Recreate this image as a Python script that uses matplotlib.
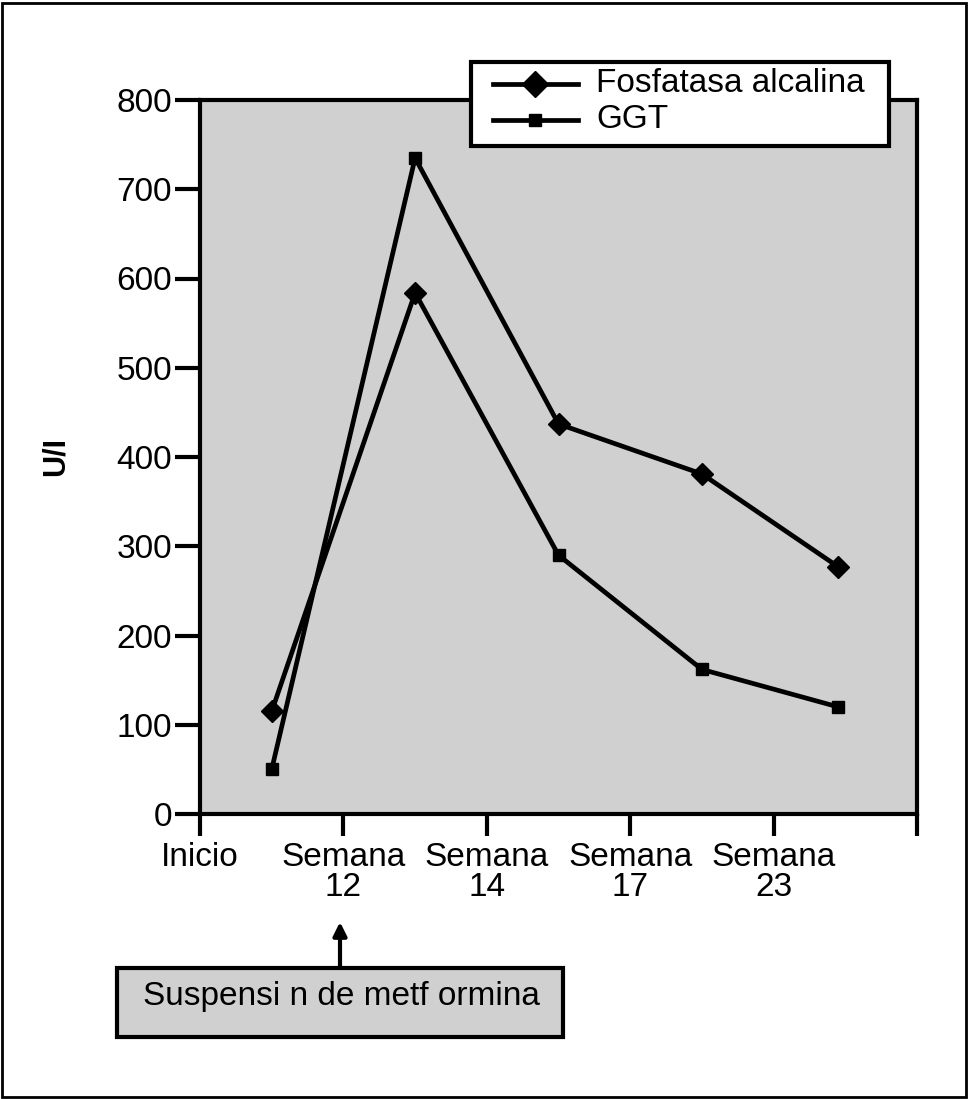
import matplotlib.pyplot as plt
from matplotlib.patches import Rectangle
from matplotlib.lines import Line2D

plt.rcParams['font.family'] = ['Liberation Sans', 'DejaVu Sans']

# datos
etiquetas = ['Inicio', 'Semana\n12', 'Semana\n14', 'Semana\n17', 'Semana\n23', '']
x_puntos = [0.5, 1.5, 2.5, 3.5, 4.45]
fosfatasa = [115, 584, 437, 381, 277]
ggt = [50, 735, 290, 162, 120]
# en el original las lineas cruzan los marcadores despues de la semana 12
linea_a = [115, 584, 290, 162, 120]
linea_b = [50, 735, 437, 381, 277]
y_ticks = [0, 100, 200, 300, 400, 500, 600, 700, 800]
series = ['Fosfatasa alcalina', 'GGT']

fig = plt.figure(figsize=(9.69, 10.99), dpi=100)
W, H = 969, 1099

def fx(px):
    return px / W

def fy(py):
    return 1 - py / H

# marco exterior
fig.patches.append(Rectangle((fx(2), fy(1097)), 964 / W, 1094 / H, transform=fig.transFigure,
                             fill=False, edgecolor='black', linewidth=2))

ax = fig.add_axes([fx(200), fy(814), 717 / W, 714 / H])
ax.set_facecolor('#d0d0d0')

ax.plot(x_puntos, linea_a, color='black', linewidth=3.4)
ax.plot(x_puntos, linea_b, color='black', linewidth=3.4)
ax.plot(x_puntos, fosfatasa, linestyle='none', color='black', marker='D', markersize=11.5)
ax.plot(x_puntos, ggt, linestyle='none', color='black', marker='s', markersize=8)

ax.set_xlim(0, 5)
ax.set_ylim(0, 800)
ax.set_xticks(range(6))
ax.set_xticklabels(etiquetas, fontsize=24, linespacing=0.95)
ax.set_yticks(y_ticks)
ax.set_yticklabels([str(v) for v in y_ticks], fontsize=24)
ax.tick_params(axis='y', direction='out', length=18, width=3, pad=2)
ax.tick_params(axis='x', direction='out', length=16, width=3, pad=4)
for s in ax.spines.values():
    s.set_linewidth(3)
ax.set_ylabel('U/I', fontsize=22, fontweight='bold')
ax.yaxis.set_label_coords(-0.18, 0.5)

# leyenda dibujada a mano
fig.patches.append(Rectangle((fx(471), fy(146)), 418 / W, 84 / H, transform=fig.transFigure,
                             facecolor='white', edgecolor='black', linewidth=3, zorder=5))
for i, (nombre, mk, ms) in enumerate(zip(series, ['D', 's'], [13, 8])):
    yy = fy(84 + 36 * i)
    fig.add_artist(Line2D([fx(493), fx(578)], [yy, yy], transform=fig.transFigure,
                          color='black', linewidth=3.4, zorder=6))
    fig.add_artist(Line2D([fx(535)], [yy], transform=fig.transFigure, color='black',
                          marker=mk, markersize=ms, zorder=7))
    fig.text(fx(596), yy, nombre, fontsize=24, va='center', ha='left', zorder=8)

# nota
fig.patches.append(Rectangle((fx(117), fy(1037)), 446 / W, 69 / H, transform=fig.transFigure,
                             facecolor='#d0d0d0', edgecolor='black', linewidth=3))
fig.text(fx(143), fy(996), 'Suspensi n de metf ormina', fontsize=24, va='center', ha='left')
fig.add_artist(plt.Annotation('', xy=(fx(340), fy(922)), xytext=(fx(340), fy(968)),
                              xycoords='figure fraction', textcoords='figure fraction',
                              arrowprops=dict(arrowstyle='-|>', color='black', lw=3,
                                              mutation_scale=20, shrinkA=0, shrinkB=0)))

fig.savefig('out.png', dpi=100)
